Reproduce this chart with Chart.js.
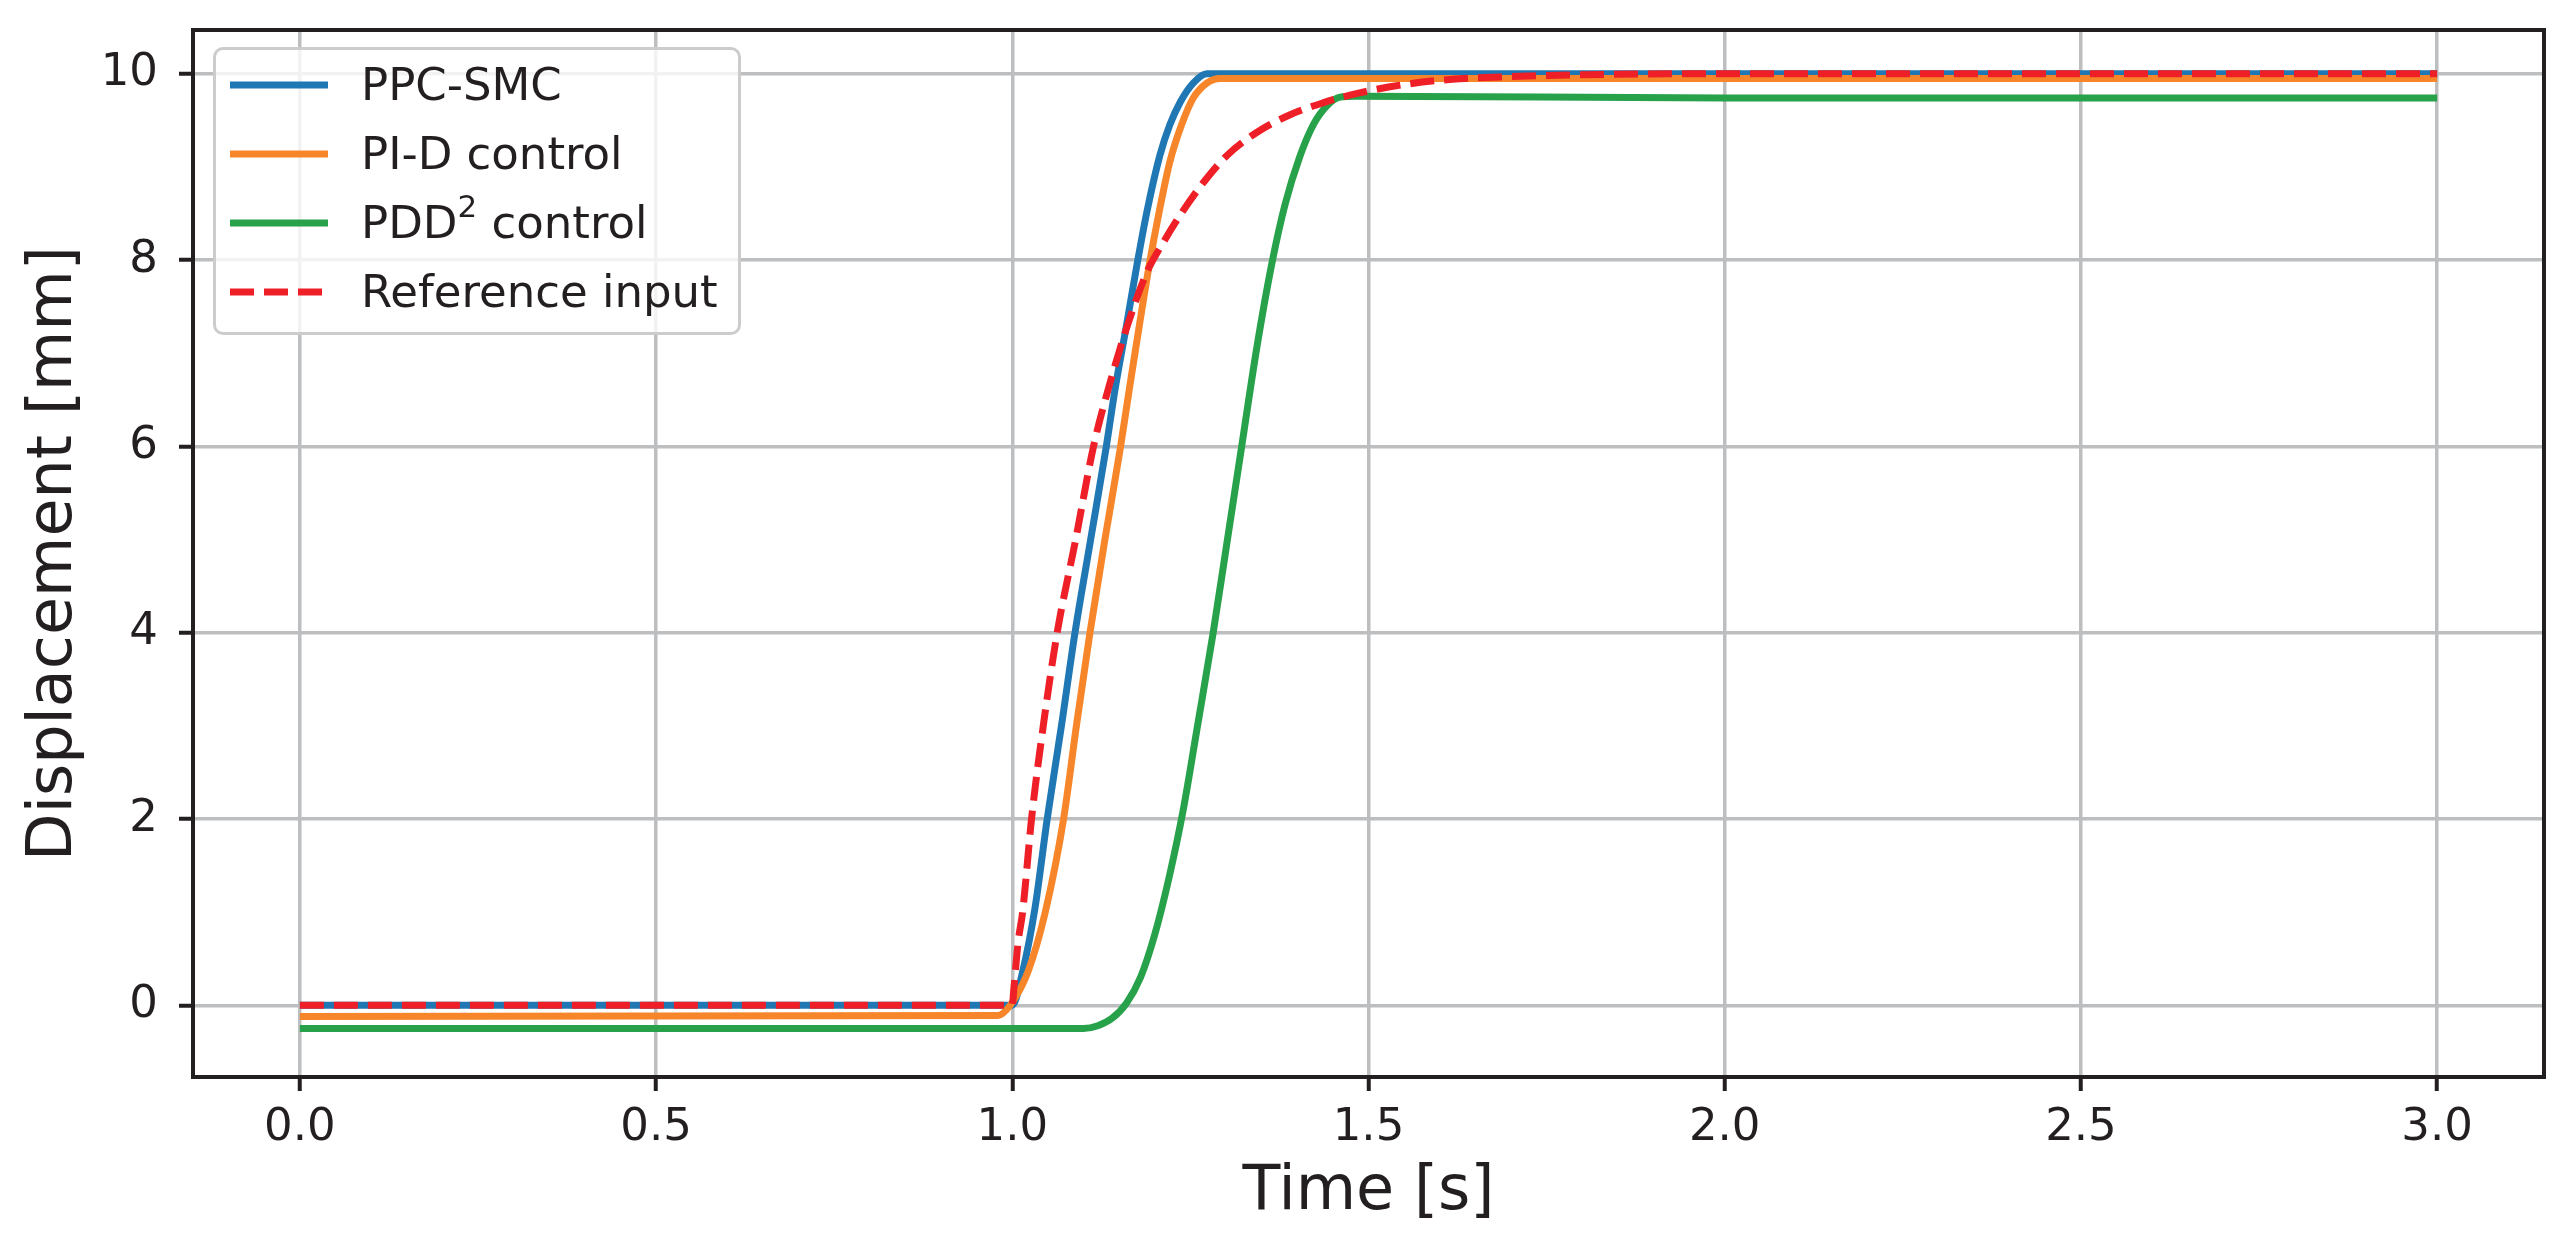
<!DOCTYPE html>
<html>
<head>
<meta charset="utf-8">
<script src="https://cdn.jsdelivr.net/npm/chart.js@4"></script>
<style>
  body { margin: 0; background: #fff; }
  #wrap { position: relative; width: 2570px; height: 1256px; }
  #legend {
    position: absolute; left: 213px; top: 47px; width: 528px; height: 288px;
    box-sizing: border-box; border: 3px solid #cccccc; border-radius: 10px;
    background: rgba(255, 255, 255, 0.8);
    font-family: "DejaVu Sans", sans-serif; font-size: 45px; color: #231f20;
  }
  .row { display: flex; align-items: center; height: 69px; }
  .row svg { margin-left: 14px; margin-right: 33px; }
  .row sup { font-size: 31px; vertical-align: 21px; line-height: 0; }
</style>
</head>
<body>
<div id="wrap">
  <canvas id="grafik" width="2570" height="1256"></canvas>
  <div id="legend"></div>
</div>
<script>
// waktu (s) dan posisi (mm)
const tPPC = [0, 1.0, 1.0145, 1.032, 1.049, 1.069, 1.088, 1.11, 1.132, 1.144, 1.161, 1.175, 1.189, 1.207, 1.221, 1.236, 1.254, 1.273, 1.3, 2.0, 3.0];
const yPPC = [0, 0, 0.36, 1.05, 2.0, 3.0, 4.0, 5.0, 6.0, 6.6, 7.33, 7.95, 8.52, 9.12, 9.45, 9.7, 9.9, 10.0, 10.0, 10.0, 10.0];

const tPID = [0, 0.98, 0.997, 1.022, 1.046, 1.072, 1.09, 1.109, 1.13, 1.151, 1.165, 1.179, 1.193, 1.207, 1.221, 1.238, 1.254, 1.273, 1.292, 1.32, 2.0, 3.0];
const yPID = [-0.12, -0.11, 0, 0.36, 0.99, 2.0, 3.0, 4.0, 5.0, 5.95, 6.65, 7.33, 7.98, 8.55, 9.05, 9.46, 9.74, 9.9, 9.95, 9.95, 9.95, 9.95];

const tPDD = [0, 1.1, 1.12, 1.14, 1.16, 1.18, 1.2, 1.22, 1.24, 1.26, 1.282, 1.302, 1.322, 1.343, 1.364, 1.383, 1.404, 1.423, 1.442, 1.46, 1.48, 2.0, 3.0];
const yPDD = [-0.25, -0.25, -0.22, -0.14, 0.02, 0.3, 0.76, 1.37, 2.1, 3.0, 4.0, 5.0, 6.0, 7.05, 7.95, 8.6, 9.12, 9.46, 9.66, 9.75, 9.76, 9.74, 9.74];

const tRef = [0, 1.0, 1.0023, 1.0084, 1.0145, 1.027, 1.0435, 1.063, 1.089, 1.114, 1.136, 1.163, 1.189, 1.212, 1.238, 1.268, 1.301, 1.343, 1.39, 1.437, 1.474, 1.53, 1.6, 1.7, 1.8, 2.0, 3.0];
const yRef = [0, 0, 0.19, 0.69, 1.0, 2.0, 3.0, 4.0, 5.0, 6.0, 6.65, 7.33, 7.87, 8.19, 8.51, 8.83, 9.12, 9.37, 9.56, 9.69, 9.77, 9.86, 9.93, 9.97, 9.99, 10.0, 10.0];

const xTicks = [0, 0.5, 1.0, 1.5, 2.0, 2.5, 3.0];
const yTicks = [0, 2, 4, 6, 8, 10];
const labels = ['PPC-SMC', 'PI-D control', 'PDD<sup>2</sup> control', 'Reference input'];

const ink = '#231f20';
const gridColor = '#bcbec0';

function gabung(t, y) {
  return t.map((x, i) => ({ x: x, y: y[i] }));
}

function garis(label, t, y, warna, urutan, dash) {
  return {
    label: label,
    data: gabung(t, y),
    borderColor: warna,
    borderWidth: 7,
    borderDash: dash || [],
    borderCapStyle: 'butt',
    pointRadius: 0,
    fill: false,
    cubicInterpolationMode: 'monotone',
    order: urutan
  };
}

const datasets = [
  garis(labels[0], tPPC, yPPC, '#1f77b4', 4),
  garis(labels[1], tPID, yPID, '#f7862a', 3),
  garis(labels[2], tPDD, yPDD, '#27a24a', 2),
  garis(labels[3], tRef, yRef, '#ee1f26', 1, [24, 10])
];

// kotak spine seperti matplotlib
const bingkai = {
  id: 'bingkai',
  afterDatasetsDraw(chart) {
    const a = chart.chartArea;
    const ctx = chart.ctx;
    ctx.save();
    ctx.strokeStyle = ink;
    ctx.lineWidth = 4;
    ctx.strokeRect(a.left, a.top, a.right - a.left, a.bottom - a.top);
    ctx.restore();
  }
};

const fontTick = { family: 'DejaVu Sans', size: 45 };
const fontJudul = { family: 'DejaVu Sans', size: 62, lineHeight: 1 };

new Chart(document.getElementById('grafik').getContext('2d'), {
  type: 'line',
  data: { datasets: datasets },
  options: {
    responsive: false,
    animation: false,
    devicePixelRatio: 1,
    layout: { autoPadding: false, padding: { top: 30, right: 26, left: 0, bottom: 0 } },
    plugins: { legend: { display: false }, tooltip: { enabled: false } },
    scales: {
      x: {
        type: 'linear',
        min: -0.15,
        max: 3.15,
        afterBuildTicks: s => { s.ticks = xTicks.map(v => ({ value: v })); },
        afterFit: s => { s.height = 179; s.paddingLeft = 0; s.paddingRight = 0; },
        ticks: { font: fontTick, color: ink, padding: 10, maxRotation: 0, callback: v => v.toFixed(1) },
        grid: { color: gridColor, lineWidth: 3.5, tickLength: 14, tickColor: ink, tickWidth: 4 },
        border: { display: false },
        title: { display: true, text: 'Time [s]', font: fontJudul, color: ink, padding: { top: 0, bottom: 32 } }
      },
      y: {
        type: 'linear',
        min: -0.77,
        max: 10.47,
        afterBuildTicks: s => { s.ticks = yTicks.map(v => ({ value: v })); },
        afterFit: s => { s.width = 193; s.paddingTop = 0; s.paddingBottom = 0; },
        ticks: { font: fontTick, color: ink, padding: 21, callback: v => String(v) },
        grid: { color: gridColor, lineWidth: 3.5, tickLength: 14, tickColor: ink, tickWidth: 4 },
        border: { display: false },
        title: { display: true, text: 'Displacement [mm]', font: fontJudul, color: ink, padding: { top: 24, bottom: 0 } }
      }
    }
  },
  plugins: [bingkai]
});

// legenda HTML di dalam area plot
const legend = document.getElementById('legend');
datasets.forEach(d => {
  const dash = d.borderDash.length ? `stroke-dasharray="${d.borderDash.join(' ')}"` : '';
  legend.innerHTML += `<div class="row"><svg width="98" height="12"><line x1="0" y1="6" x2="98" y2="6" stroke="${d.borderColor}" stroke-width="7" ${dash}/></svg><span>${d.label}</span></div>`;
});
</script>
</body>
</html>
